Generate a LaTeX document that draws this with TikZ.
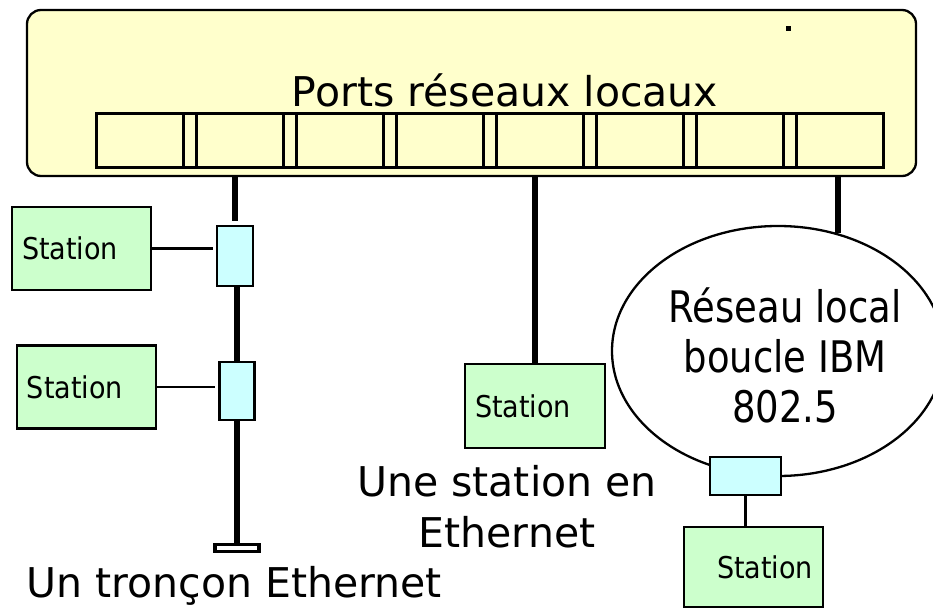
\documentclass[tikz,border=0pt]{standalone}
\usepackage{fontspec}
\setmainfont{DejaVu Sans}
\usetikzlibrary{shapes.geometric}
\definecolor{jaune}{HTML}{FFFFCC}
\definecolor{vert}{HTML}{CCFFCC}
\definecolor{cyanclair}{HTML}{CCFFFF}
\newcommand{\serre}[2][0.85]{\scalebox{#1}[1]{#2}}
\begin{document}
\begin{tikzpicture}[line cap=butt,line join=miter,x=1pt,y=-1pt]
    \tikzset{
        station/.style={draw,line width=2.8pt,fill=vert,minimum height=83pt,text width=119pt,
            inner xsep=10pt,inner ysep=0pt,align=left,font=\fontsize{30}{34}\selectfont},
        prise/.style={draw,line width=2.8pt,fill=cyanclair,inner sep=0pt},
        port/.style={draw,line width=3pt,minimum width=87pt,minimum height=54pt,inner sep=0pt},
        bus/.style={line width=5.5pt},
        lien/.style={line width=2.6pt},
        grand/.style={font=\fontsize{41}{51}\selectfont,inner sep=0pt}
    }
    \useasboundingbox (0,0) rectangle (933,609);
    \node[draw,line width=2.3pt,fill=jaune,rounded corners=14pt,minimum width=889pt,minimum height=166pt] (commut) at (471.5,93) {};
    \node[grand,anchor=base] (titre) at (505,107) {Ports réseaux locaux};
    \fill (786,26) rectangle (791,31);
    \node[port,minimum width=787pt] (ports) at (489.5,141) {};
    \foreach \i in {0,...,7}
        \node[port] (p\i) at (139.5+\i*100,141) {};
    % Ethernet
    \node[prise,minimum width=36pt,minimum height=60pt] (tap1) at (235,256) {};
    \node[prise,minimum width=35pt,minimum height=58pt] (tap2) at (237,391) {};
    \node[draw,line width=3.2pt,fill=white,minimum width=44pt,minimum height=7pt,inner sep=0pt] (bouchon) at (237,548) {};
    \node[station] (st1) at (81.5,248.5) {\serre[0.9]{Station}};
    \node[station] (st2) at (86.5,387) {\serre[0.9]{Station}};
    \node[station,minimum height=84pt,text width=120pt] (st3) at (535,406) {\serre[0.9]{Station}};
    % anneau
    \node[ellipse,draw,line width=2.3pt,minimum width=332pt,minimum height=250pt,inner sep=0pt] (anneau) at (778,351) {};
    \node[font=\fontsize{43.5}{50}\selectfont,align=center,inner sep=0pt] (anneautxt) at (785,355) {\serre{Réseau local}\\\serre{boucle IBM}\\\serre{802.5}};
    \node[prise,minimum width=71pt,minimum height=38pt] (tap3) at (745.5,476) {};
    \node[station,align=right,minimum height=80pt] (st4) at (753.5,567) {\serre[0.9]{Station}};
    \draw[bus,shorten >=4pt] (tap1.north |- commut.south) -- (tap1.north);
    \draw[bus] (tap2.north |- tap1.south) -- (tap2.north);
    \draw[bus] (tap2.south) -- (bouchon.north);
    \draw[bus] (st3.north |- commut.south) -- (st3.north);
    \draw[bus] (anneau.63 |- commut.south) -- (anneau.63);
    \draw[lien,shorten >=3pt] (st1.east) -- (st1.east -| tap1.west);
    \draw[lien,shorten >=3pt] (st2.east) -- (st2.east -| tap2.west);
    \draw[lien] (tap3.south) -- (tap3.south |- st4.north);
    \node[grand,align=center] (lbl3) at (507,507) {Une station en\\Ethernet};
    \node[grand,anchor=base] (lbl1) at (234,597) {Un tronçon Ethernet};
\end{tikzpicture}
\end{document}
